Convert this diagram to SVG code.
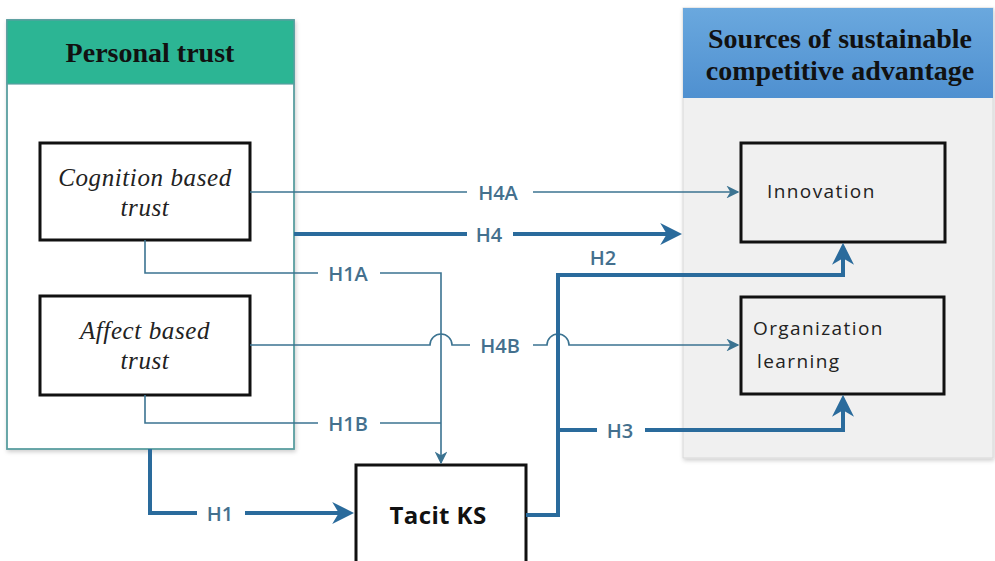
<svg xmlns="http://www.w3.org/2000/svg" width="995" height="561" viewBox="0 0 995 561">
  <defs>
    <linearGradient id="blueHead" x1="0" y1="0" x2="0" y2="1">
      <stop offset="0" stop-color="#6aa8de"/>
      <stop offset="1" stop-color="#4f90d0"/>
    </linearGradient>
    <marker id="arrThick" viewBox="0 0 10 10" refX="4" refY="5" markerWidth="5.5" markerHeight="5.5" orient="auto" markerUnits="strokeWidth">
      <path d="M0,0 L10,5 L0,10 L3,5 Z" fill="#2a6b9c"/>
    </marker>
    <marker id="arrThin" viewBox="0 0 10 10" refX="9" refY="5" markerWidth="8" markerHeight="8" orient="auto" markerUnits="strokeWidth">
      <path d="M0,0 L10,5 L0,10 L3,5 Z" fill="#3b7391"/>
    </marker>
    <filter id="shadow" x="-5%" y="-5%" width="110%" height="110%">
      <feDropShadow dx="1" dy="2" stdDeviation="2" flood-color="#000" flood-opacity="0.2"/>
    </filter>
  </defs>
  <style>
    .box { fill: #fff; stroke: #111; stroke-width: 3; }
    .boxg { fill: #f0f0f0; stroke: #111; stroke-width: 3; }
    .thin { fill: none; stroke: #3b7391; stroke-width: 1.6; }
    .thick { fill: none; stroke: #2a6b9c; stroke-width: 4; }
    .lbl { font-family: "Open Sans", "Liberation Sans", sans-serif; font-weight: 600; font-size: 20px; fill: #44708e; text-anchor: middle; dominant-baseline: central; }
    .head { font-family: "Liberation Serif", serif; font-weight: bold; font-size: 28px; fill: #111; text-anchor: middle; }
    .ital { font-family: "Liberation Serif", serif; font-style: italic; font-size: 25px; letter-spacing: 0.6px; fill: #222; text-anchor: middle; }
    .sans { font-family: "Open Sans", "DejaVu Sans", sans-serif; font-size: 19px; fill: #222; letter-spacing: 1.4px; }
  </style>

  <rect width="995" height="561" fill="#fff"/>

  <!-- Personal trust panel -->
  <g id="personal-trust">
    <rect x="7" y="20" width="287" height="429" fill="#fff" stroke="#5a9ea0" stroke-width="1.8" filter="url(#shadow)"/>
    <rect x="7" y="20" width="287" height="64" fill="#2cb594" stroke="#5a9ea0" stroke-width="1.2"/>
    <text class="head" x="150" y="62">Personal trust</text>
  </g>

  <!-- Sources of sustainable competitive advantage panel -->
  <g id="sources-panel">
    <rect x="683" y="8" width="310" height="450" fill="#f0f0f0" stroke="#d8d8d8" stroke-width="1" filter="url(#shadow)"/>
    <rect x="683" y="8" width="310" height="90" fill="url(#blueHead)"/>
    <text class="head" x="840" y="48">Sources of sustainable</text>
    <text class="head" x="840" y="80">competitive advantage</text>
  </g>

  <g id="cognition-trust">
    <rect class="box" x="40" y="143" width="210" height="97"/>
    <text class="ital" x="145" y="186">Cognition based</text>
    <text class="ital" x="145" y="216">trust</text>
  </g>

  <g id="affect-trust">
    <rect class="box" x="40" y="296" width="210" height="99"/>
    <text class="ital" x="145" y="339">Affect based</text>
    <text class="ital" x="145" y="369">trust</text>
  </g>

  <g id="innovation">
    <rect class="boxg" x="741" y="143" width="204" height="99"/>
    <text class="sans" x="767" y="198">Innovation</text>
  </g>

  <g id="organization-learning">
    <rect class="boxg" x="741" y="297" width="203" height="97"/>
    <text class="sans" x="753" y="335">Organization</text>
    <text class="sans" x="757" y="368">learning</text>
  </g>

  <g id="tacit-ks">
    <rect class="box" x="356" y="465" width="170" height="110"/>
    <text x="438" y="524" font-family="'Open Sans', 'Liberation Sans', sans-serif" font-weight="bold" font-size="24" letter-spacing="0.4" fill="#111" text-anchor="middle">Tacit KS</text>
  </g>

  <g id="connectors">
    <!-- H4A: cognition -> innovation -->
    <path class="thin" d="M250,192 H467"/>
    <path class="thin" d="M533,192 H738" marker-end="url(#arrThin)"/>
    <!-- H4: personal trust -> sources panel -->
    <path class="thick" d="M294,234 H467"/>
    <path class="thick" d="M513,234 H669" marker-end="url(#arrThick)"/>
    <!-- H1A: cognition -> tacit KS -->
    <path class="thin" d="M145,240 V273 H318"/>
    <path class="thin" d="M380,273 H441 V463" marker-end="url(#arrThin)"/>
    <!-- H1B: affect -> tacit KS -->
    <path class="thin" d="M145,395 V423 H318"/>
    <path class="thin" d="M380,423 H441"/>
    <!-- H4B: affect -> organization learning, hopping over crossings -->
    <path class="thin" d="M250,345 H430 A11,11 0 0 1 452,345 H470"/>
    <path class="thin" d="M533,345 H547 A11,11 0 0 1 569,345 H738" marker-end="url(#arrThin)"/>
    <!-- H1: personal trust -> tacit KS -->
    <path class="thick" d="M150,449 V513 H197"/>
    <path class="thick" d="M245,513 H341" marker-end="url(#arrThick)"/>
    <!-- H2 / H3: tacit KS -> innovation / organization learning -->
    <path class="thick" d="M526,515 H558 V275 H843 V256" marker-end="url(#arrThick)"/>
    <path class="thick" d="M558,430 H597"/>
    <path class="thick" d="M645,430 H843 V408" marker-end="url(#arrThick)"/>

    <text class="lbl" x="498" y="192">H4A</text>
    <text class="lbl" x="489" y="234">H4</text>
    <text class="lbl" x="603" y="257">H2</text>
    <text class="lbl" x="348" y="273">H1A</text>
    <text class="lbl" x="500" y="345">H4B</text>
    <text class="lbl" x="348" y="423">H1B</text>
    <text class="lbl" x="620" y="430">H3</text>
    <text class="lbl" x="220" y="513">H1</text>
  </g>
</svg>
